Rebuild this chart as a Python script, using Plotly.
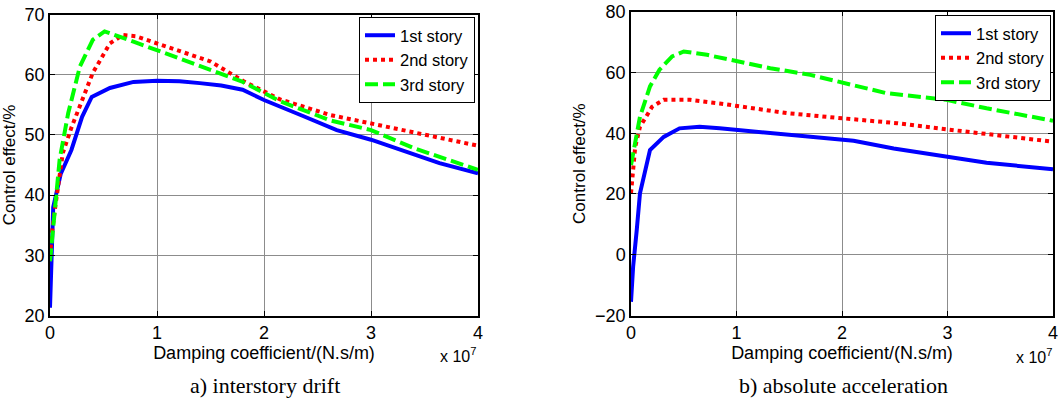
import plotly.graph_objects as go

# ---------- data (x in units of 1e7 N.s/m, y in %) ----------
drift_x1 = [0, 0.03, 0.1, 0.2, 0.3, 0.39, 0.56, 0.78, 1.0, 1.21, 1.4, 1.6, 1.8, 2.0, 2.37, 2.68, 3.0, 3.3, 3.64, 4.0]
drift_y1 = [21.3, 38, 43.5, 47.5, 53, 56.3, 57.8, 58.8, 59, 58.9, 58.6, 58.2, 57.5, 55.8, 53.1, 50.8, 49.2, 47.3, 45.3, 43.6]
drift_x2 = [0, 0.02, 0.05, 0.12, 0.2, 0.27, 0.4, 0.56, 0.68, 0.8, 1.0, 1.28, 1.5, 1.81, 2.15, 2.62, 3.0, 3.4, 4.0]
drift_y2 = [29.8, 34, 38.2, 47, 51.2, 54.4, 60.3, 65.2, 66.6, 66.4, 65.2, 63.6, 62.2, 58.9, 55.9, 53.3, 51.9, 50.3, 48.2]
drift_x3 = [0, 0.03, 0.09, 0.17, 0.28, 0.4, 0.51, 0.78, 1.0, 1.21, 1.4, 1.79, 2.15, 2.62, 3.0, 3.4, 4.0]
drift_y3 = [29, 34.8, 45.9, 53.6, 61.4, 65.8, 67.2, 65.5, 64.1, 62.6, 61.4, 58.9, 55.6, 52.4, 50.8, 47.8, 44.2]

acc_x1 = [0, 0.02, 0.054, 0.085, 0.18, 0.31, 0.46, 0.65, 0.84, 1.03, 1.16, 1.63, 2.11, 2.49, 3.0, 3.37, 4.0]
acc_y1 = [-15.5, -4, 8, 20.2, 34.5, 38.8, 41.6, 42.1, 41.6, 41, 40.5, 38.8, 37.5, 35, 32.2, 30.3, 28.1]
acc_x2 = [0, 0.04, 0.085, 0.2, 0.31, 0.56, 0.84, 1.03, 1.48, 2.01, 2.52, 3.06, 3.53, 4.0]
acc_y2 = [20.2, 35.5, 42.1, 48.7, 51, 51, 49.8, 48.8, 46.6, 44.9, 43.3, 41, 39.1, 37.2]
acc_x3 = [0, 0.04, 0.085, 0.18, 0.27, 0.39, 0.5, 0.72, 1.03, 1.32, 1.7, 2.01, 2.42, 2.99, 3.37, 4.0]
acc_y3 = [29.5, 37.8, 45.4, 55.4, 60.9, 65.3, 66.9, 65.8, 63.6, 61.4, 59.2, 56.7, 53.2, 51, 48.2, 44.1]

series_names = ["1st story", "2nd story", "3rd story"]
colors = ["#0000FF", "#FF0000", "#00FF00"]
dashes = ["solid", "dot", "13px,5px"]

W, H = 1059, 417
fig = go.Figure()

left = [(drift_x1, drift_y1), (drift_x2, drift_y2), (drift_x3, drift_y3)]
right = [(acc_x1, acc_y1), (acc_x2, acc_y2), (acc_x3, acc_y3)]

for i, (x, y) in enumerate(left):
    fig.add_trace(go.Scatter(x=x, y=y, mode="lines", name=series_names[i],
                             line=dict(color=colors[i], width=4, dash=dashes[i]),
                             xaxis="x", yaxis="y", legend="legend"))
for i, (x, y) in enumerate(right):
    fig.add_trace(go.Scatter(x=x, y=y, mode="lines", name=series_names[i],
                             line=dict(color=colors[i], width=4, dash=dashes[i]),
                             xaxis="x2", yaxis="y2", legend="legend2"))

SANS = "Liberation Sans, Arial"
tickfont = dict(family=SANS, size=18, color="black")

def xax(domain, anchor):
    return dict(domain=domain, anchor=anchor, range=[0, 4], dtick=1, tick0=0,
                showline=True, linecolor="black", linewidth=1.5, mirror="ticks",
                ticks="inside", ticklen=5, tickcolor="black", automargin=False,
                showgrid=True, gridcolor="#8c8c8c", gridwidth=1,
                zeroline=False, tickfont=tickfont,
                title=dict(text="Damping coefficient/(N.s/m)",
                           font=dict(family=SANS, size=18, color="black"), standoff=3))

def yax(domain, anchor, rng, dt):
    return dict(domain=domain, anchor=anchor, range=rng, dtick=dt,
                showline=True, linecolor="black", linewidth=1.5, mirror="ticks",
                ticks="inside", ticklen=5, tickcolor="black", automargin=False,
                showgrid=True, gridcolor="#8c8c8c", gridwidth=1,
                zeroline=False, tickfont=tickfont,
                title=dict(text="Control effect/%",
                           font=dict(family=SANS, size=17, color="black"), standoff=5))

legfont = dict(family=SANS, size=16.5, color="black")

fig.update_layout(
    width=W, height=H,
    margin=dict(l=0, r=0, t=0, b=0, autoexpand=False),
    paper_bgcolor="white", plot_bgcolor="white",
    xaxis=xax([50 / W, 478 / W], "y"),
    yaxis=yax([1 - 315.5 / H, 1 - 14.5 / H], "x", [20, 70], 10),
    xaxis2=xax([631 / W, 1053 / W], "y2"),
    yaxis2=yax([1 - 315.5 / H, 1 - 11.7 / H], "x2", [-20, 80], 20),
    legend=dict(x=475 / W, y=1 - 17 / H, xanchor="right", yanchor="top",
                bgcolor="white", bordercolor="black", borderwidth=1,
                font=legfont, itemwidth=30, tracegroupgap=0),
    legend2=dict(x=1051 / W, y=1 - 15 / H, xanchor="right", yanchor="top",
                 bgcolor="white", bordercolor="black", borderwidth=1,
                 font=legfont, itemwidth=30, tracegroupgap=0),
    annotations=[
        dict(text="x 10<sup>7</sup>", x=478 / W, y=1 - 355 / H, xref="paper", yref="paper",
             xanchor="right", yanchor="middle", showarrow=False,
             font=dict(family=SANS, size=16, color="black")),
        dict(text="x 10<sup>7</sup>", x=1054 / W, y=1 - 356 / H, xref="paper", yref="paper",
             xanchor="right", yanchor="middle", showarrow=False,
             font=dict(family=SANS, size=16, color="black")),
        dict(text="a) interstory drift", x=265 / W, y=1 - 385 / H, xref="paper", yref="paper",
             xanchor="center", yanchor="middle", showarrow=False,
             font=dict(family="Liberation Serif, Times New Roman", size=22, color="black")),
        dict(text="b) absolute acceleration", x=843 / W, y=1 - 385 / H, xref="paper", yref="paper",
             xanchor="center", yanchor="middle", showarrow=False,
             font=dict(family="Liberation Serif, Times New Roman", size=22, color="black")),
    ],
)

fig.write_html("out.html", config={"displayModeBar": False},
               post_script="document.body.style.margin='0px';")
